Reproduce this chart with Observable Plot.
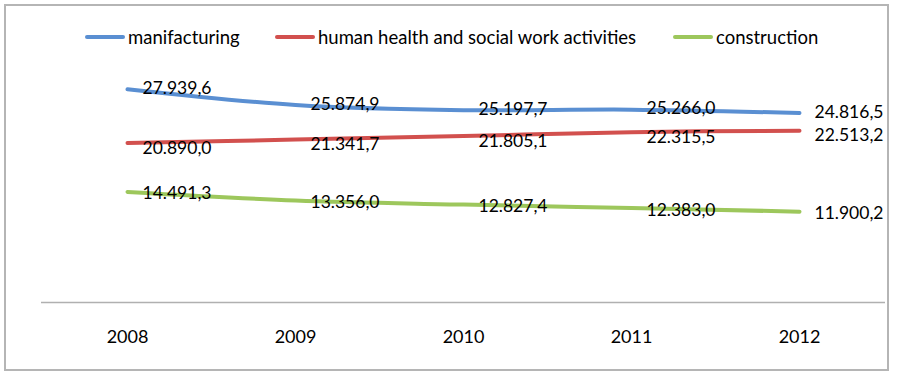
<!DOCTYPE html>
<html>
<head>
<meta charset="utf-8">
<script src="https://cdn.jsdelivr.net/npm/d3@7"></script>
<script src="https://cdn.jsdelivr.net/npm/@observablehq/plot@0.6"></script>
<style>
  html, body { margin: 0; padding: 0; background: #fff; }
  #wrap { position: relative; width: 898px; height: 375px; font-family: Lato, "Open Sans", sans-serif; }
  #frame { position: absolute; left: 4px; top: 4px; width: 881px; height: 363px; border: 2px solid #b5b5b5; pointer-events: none; }
  .leg { position: absolute; top: 26px; display: flex; align-items: center; font-size: 18.5px; color: #000; white-space: nowrap; }
  .sw { width: 40px; height: 4px; border-radius: 2px; margin-right: 3px; }
  svg { position: absolute; left: 0; top: 0; }
</style>
</head>
<body>
<div id="wrap"><div id="frame"></div></div>
<script>
const years = ["2008", "2009", "2010", "2011", "2012"];
const seriesNames = ["manifacturing", "human health and social work activities", "construction"];
const manufacturing = [27939.6, 25874.9, 25197.7, 25266.0, 24816.5];
const health = [20890.0, 21341.7, 21805.1, 22315.5, 22513.2];
const construction = [14491.3, 13356.0, 12827.4, 12383.0, 11900.2];
const colors = ["#5a8fd2", "#d2504e", "#9dc75c"];
const legendLeft = [85, 275, 673];

const seriesValues = [manufacturing, health, construction];
const data = seriesNames.flatMap((s, i) => years.map((y, j) => ({series: s, year: y, value: seriesValues[i][j]})));

const fmt = d3.formatLocale({decimal: ",", thousands: ".", grouping: [3], currency: ["", ""]}).format(",.1f");
const labelOffsets = [-1, 5, 2];

const chart = Plot.plot({
  width: 898,
  height: 375,
  marginLeft: 41,
  marginRight: 13,
  marginTop: 73,
  marginBottom: 73,
  style: {fontFamily: "Lato, 'Open Sans', sans-serif", fontSize: "18px", background: "transparent", overflow: "visible"},
  x: {type: "point", domain: years, padding: 0.5},
  y: {domain: [0, 30000], axis: null},
  color: {domain: seriesNames, range: colors},
  marks: [
    Plot.ruleY([0], {stroke: "#b0b0b0", strokeWidth: 1.5}),
    Plot.axisX({tickSize: 0, tickPadding: 28, fontSize: 18, fill: "#000", label: null}),
    Plot.line(data, {x: "year", y: "value", z: "series", stroke: "series", strokeWidth: 4, curve: "catmull-rom", strokeLinecap: "round"}),
    ...seriesNames.map((s, i) =>
      Plot.text(data.filter(d => d.series === s), {x: "year", y: "value", text: d => fmt(d.value), textAnchor: "start", dx: 15, dy: labelOffsets[i], fill: "#000", fontSize: 17.5})
    )
  ]
});
const wrap = document.getElementById("wrap");
wrap.insertBefore(chart, wrap.firstChild);

seriesNames.forEach((s, i) => {
  const item = document.createElement("div");
  item.className = "leg";
  item.style.left = legendLeft[i] + "px";
  const sw = document.createElement("div");
  sw.className = "sw";
  sw.style.background = colors[i];
  const t = document.createElement("span");
  t.textContent = s;
  item.appendChild(sw);
  item.appendChild(t);
  wrap.appendChild(item);
});
</script>
</body>
</html>
